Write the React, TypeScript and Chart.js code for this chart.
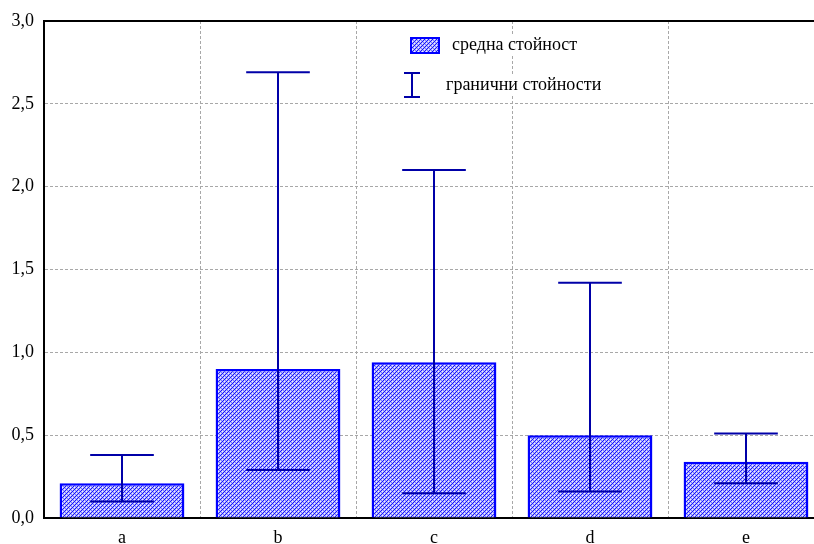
import React, { useEffect, useRef } from "react";
import { Chart, registerables } from "chart.js";

Chart.register(...registerables);

const categories = ["a", "b", "c", "d", "e"];
const means = [0.21, 0.9, 0.94, 0.5, 0.34];
const maxValues = [0.38, 2.69, 2.1, 1.42, 0.51];
const minValues = [0.1, 0.29, 0.15, 0.16, 0.21];
const yTicks = [0, 0.5, 1.0, 1.5, 2.0, 2.5, 3.0];
const legendMean = "средна стойност";
const legendRange = "гранични стойности";

const FONT = '"Liberation Serif", "Times New Roman", serif';
const BLUE = "#0000ff";
const ERR = "#0000a8";
const GRID = "#a8a8a8";

function makePattern(ctx: CanvasRenderingContext2D): CanvasPattern | string {
  const c = document.createElement("canvas");
  c.width = 4;
  c.height = 4;
  const p = c.getContext("2d");
  if (!p) return "#8080ff";
  p.fillStyle = "#b4b4ff";
  p.fillRect(0, 0, 4, 4);
  for (let i = 0; i < 4; i++) {
    p.fillStyle = "#1414ff";
    p.fillRect(3 - i, i, 1, 1);
    p.fillStyle = "#7c7cff";
    p.fillRect((5 - i) % 4, i, 1, 1);
  }
  p.fillStyle = "#eeeeff";
  p.fillRect(0, 1, 1, 1);
  p.fillRect(2, 3, 1, 1);
  return ctx.createPattern(c, "repeat") || "#8080ff";
}

export default function App() {
  const ref = useRef<HTMLCanvasElement | null>(null);

  useEffect(() => {
    const canvas = ref.current;
    if (!canvas) return;
    const ctx = canvas.getContext("2d");
    if (!ctx) return;
    const pattern = makePattern(ctx);

    const errorBars = {
      id: "errorBars",
      afterDatasetsDraw(chart: any) {
        const c = chart.ctx;
        const meta = chart.getDatasetMeta(0);
        const y = chart.scales.y;
        c.save();
        c.strokeStyle = ERR;
        c.lineWidth = 2;
        meta.data.forEach((bar: any, i: number) => {
          const x = Math.round(bar.x);
          const yTop = y.getPixelForValue(maxValues[i]);
          const yBot = y.getPixelForValue(minValues[i]);
          const half = bar.width * 0.255;
          c.beginPath();
          c.moveTo(x, yTop);
          c.lineTo(x, yBot);
          c.moveTo(x - half, yTop);
          c.lineTo(x + half, yTop);
          c.moveTo(x - half, yBot);
          c.lineTo(x + half, yBot);
          c.stroke();
        });
        c.restore();
      },
      afterDraw(chart: any) {
        const c = chart.ctx;
        const a = chart.chartArea;
        c.save();
        c.strokeStyle = "#000";
        c.lineWidth = 2;
        c.beginPath();
        c.moveTo(a.left - 1, a.top);
        c.lineTo(a.right + 10, a.top);
        c.stroke();
        // legend
        c.font = `18px ${FONT}`;
        c.textBaseline = "middle";
        c.textAlign = "left";
        const w1 = c.measureText(legendMean).width;
        const w2 = c.measureText(legendRange).width;
        c.fillStyle = "#fff";
        c.fillRect(448, 34, w1 + 8, 22);
        c.fillRect(442, 74, w2 + 8, 22);
        c.fillStyle = pattern;
        c.fillRect(411, 38, 28, 15);
        c.strokeStyle = BLUE;
        c.lineWidth = 2;
        c.strokeRect(411, 38, 28, 15);
        c.strokeStyle = ERR;
        c.beginPath();
        c.moveTo(412, 73);
        c.lineTo(412, 97);
        c.moveTo(404, 73);
        c.lineTo(420, 73);
        c.moveTo(404, 97);
        c.lineTo(420, 97);
        c.stroke();
        c.fillStyle = "#000";
        c.fillText(legendMean, 452, 45);
        c.fillText(legendRange, 446, 85);
        c.restore();
      },
    };

    const chart = new Chart(canvas, {
      type: "bar",
      data: {
        labels: categories,
        datasets: [
          {
            data: means,
            backgroundColor: pattern as any,
            borderColor: BLUE,
            borderWidth: 2.5,
            barPercentage: 0.8,
            categoryPercentage: 1.0,
          },
        ],
      },
      options: {
        responsive: false,
        animation: false,
        events: [],
        layout: { padding: { top: 21, right: 6, left: 0, bottom: 0 } },
        plugins: { legend: { display: false }, tooltip: { enabled: false } },
        scales: {
          x: {
            offset: true,
            grid: {
              offset: true,
              color: GRID,
              lineWidth: 1,
              drawTicks: false,
            },
            border: { display: true, color: "#000", width: 2, dash: [3, 2] },
            ticks: {
              color: "#000",
              font: { family: FONT, size: 18 },
              padding: 9,
            },
            afterFit(scale: any) {
              scale.height = 26;
            },
          },
          y: {
            min: 0,
            max: 3,
            afterBuildTicks(scale: any) {
              scale.ticks = yTicks.map((v) => ({ value: v }));
            },
            grid: { color: GRID, lineWidth: 1, drawTicks: false },
            border: { display: true, color: "#000", width: 2, dash: [3, 2] },
            ticks: {
              color: "#000",
              font: { family: FONT, size: 18 },
              padding: 10,
              callback: (v: any) => Number(v).toFixed(1).replace(".", ","),
            },
            afterFit(scale: any) {
              scale.width = 44;
            },
          },
        },
      },
      plugins: [errorBars],
    });

    return () => chart.destroy();
  }, []);

  return (
    <div
      style={{
        position: "fixed",
        left: 0,
        top: 0,
        width: 814,
        height: 544,
        overflow: "hidden",
        background: "#fff",
      }}
    >
      <canvas ref={ref} width={830} height={544} style={{ display: "block" }} />
    </div>
  );
}
